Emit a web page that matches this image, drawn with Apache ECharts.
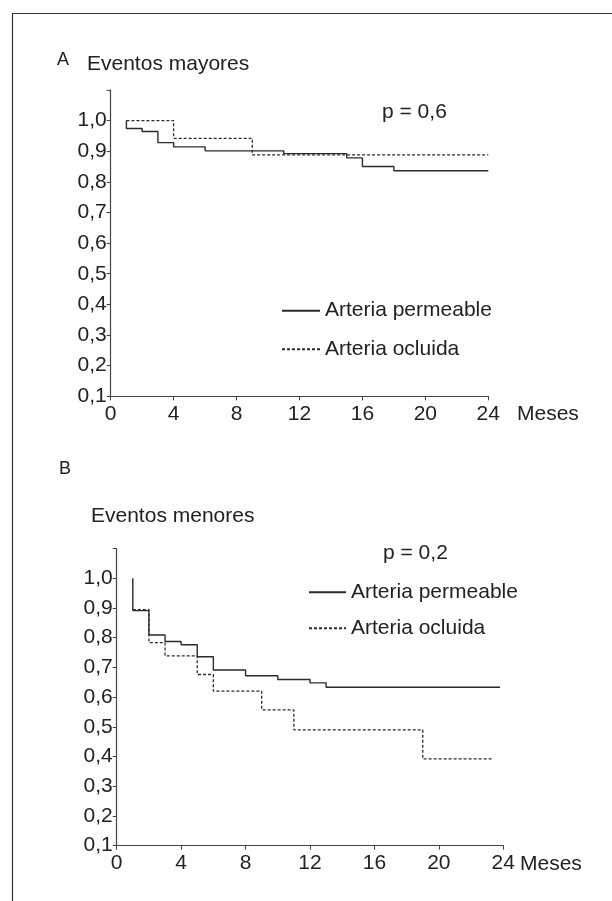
<!DOCTYPE html>
<html>
<head>
<meta charset="utf-8">
<script src="https://cdn.jsdelivr.net/npm/echarts@6/dist/echarts.min.js"></script>
<style>
html,body{margin:0;padding:0;background:#fff;}
#chart{width:612px;height:901px;}
</style>
</head>
<body>
<div id="chart"></div>
<script>
// ---- data (months, survival proportion) ----
const monthTicks = [0, 4, 8, 12, 16, 20, 24];
const yTicks = [0.1, 0.2, 0.3, 0.4, 0.5, 0.6, 0.7, 0.8, 0.9, 1.0];

// Panel A: Eventos mayores
const aPermeableT = [1, 1, 2, 3, 4, 6, 11, 15, 16, 18, 24];
const aPermeableS = [1.0, 0.974, 0.964, 0.928, 0.914, 0.901, 0.892, 0.878, 0.85, 0.836, 0.836];
const aOcluidaT = [1, 4, 9, 24];
const aOcluidaS = [1.0, 0.942, 0.888, 0.888];

// Panel B: Eventos menores
const bPermeableT = [1, 1, 2, 3, 4, 5, 6, 8, 10, 12, 13, 23.8];
const bPermeableS = [1.0, 0.891, 0.809, 0.787, 0.776, 0.736, 0.691, 0.672, 0.659, 0.648, 0.633, 0.633];
const bOcluidaT = [1, 2, 3, 5, 6, 9, 11, 19, 23.4];
const bOcluidaS = [0.894, 0.783, 0.739, 0.676, 0.620, 0.557, 0.49, 0.392, 0.392];

const seriesNames = ['Arteria permeable', 'Arteria ocluida'];
const panelTitles = ['Eventos mayores', 'Eventos menores'];
const panelLetters = ['A', 'B'];
const pValues = ['p = 0,6', 'p = 0,2'];
const xUnit = 'Meses';

// ---- build ----
const FONT = "'Liberation Sans', Arial, Helvetica, sans-serif";
const TXT = '#222';
const LINE = '#2b2b2b';
const FS = 21;
const zip = (t, s) => t.map((v, i) => [v, s[i]]);

function xAxisFor(idx) {
  return {
    gridIndex: idx, type: 'value', min: 0, max: 24, interval: 4,
    axisLine: {lineStyle: {color: '#444', width: 1.2}},
    axisTick: {show: true, length: 4, lineStyle: {color: '#444'}},
    splitLine: {show: false},
    axisLabel: {fontSize: FS, color: TXT, fontFamily: FONT, margin: 7,
      formatter: v => monthTicks.includes(v) ? String(v) : ''}
  };
}
function yAxisFor(idx) {
  return {
    gridIndex: idx, type: 'value', min: 0.1, max: 1.1, interval: 0.1,
    axisLine: {show: true, lineStyle: {color: '#444', width: 1.2}},
    axisTick: {show: true, length: 4, lineStyle: {color: '#444'}},
    splitLine: {show: false},
    axisLabel: {fontSize: FS, color: TXT, fontFamily: FONT, margin: 4,
      formatter: v => {
        const r = Math.round(v * 10) / 10;
        return yTicks.some(t => Math.abs(t - r) < 1e-6) ? r.toFixed(1).replace('.', ',') : '';
      }}
  };
}
function lineSeries(name, idx, data, dashed) {
  return {
    name, type: 'line', xAxisIndex: idx, yAxisIndex: idx, step: 'end',
    data, symbol: 'none', silent: true,
    lineStyle: {color: LINE, width: dashed ? 1.3 : 1.4, type: dashed ? [3, 2] : 'solid'},
    itemStyle: {color: LINE}
  };
}
function txt(text, x, y, size) {
  return {type: 'text', x, y, style: {text, fill: TXT, font: size + 'px ' + FONT, textVerticalAlign: 'middle', textAlign: 'left'}};
}
function legendFor(left, top, gap, w) {
  return {orient: 'vertical', left, top, padding: 0, itemGap: gap,
    itemWidth: w, itemHeight: 14, selectedMode: false,
    itemStyle: {opacity: 0, color: 'rgba(0,0,0,0)', borderWidth: 0},
    textStyle: {fontSize: FS, color: TXT, fontFamily: FONT, lineHeight: FS},
    data: seriesNames};
}

const option = {
  animation: false,
  backgroundColor: '#fff',
  grid: [
    {left: 110.7, top: 89.9, width: 377.6, height: 306.4},
    {left: 116.7, top: 548.5, width: 386.6, height: 297.2}
  ],
  xAxis: [xAxisFor(0), xAxisFor(1)],
  yAxis: [yAxisFor(0), yAxisFor(1)],
  legend: [
    legendFor(281, 300.2, 17.6, 38),
    legendFor(308, 581.8, 15, 37)
  ],
  series: [
    lineSeries(seriesNames[0], 0, zip(aPermeableT, aPermeableS), false),
    lineSeries(seriesNames[1], 0, zip(aOcluidaT, aOcluidaS), true),
    lineSeries(seriesNames[0], 1, zip(bPermeableT, bPermeableS), false),
    lineSeries(seriesNames[1], 1, zip(bOcluidaT, bOcluidaS), true)
  ],
  graphic: [
    {type: 'rect', shape: {x: 12.5, y: 13.5, width: 700, height: 1000},
     style: {fill: 'none', stroke: '#333', lineWidth: 1.2}, silent: true},
    txt(panelLetters[0], 57, 59.7, 18),
    txt(panelTitles[0], 87, 64.3, FS),
    txt(pValues[0], 382, 112, FS),
    txt(xUnit, 517, 414, FS),
    txt(panelLetters[1], 59, 468.7, 18),
    txt(panelTitles[1], 91, 516.6, FS),
    txt(pValues[1], 383, 553.4, FS),
    txt(xUnit, 520, 864, FS)
  ]
};

const chart = echarts.init(document.getElementById('chart'), null, {renderer: 'canvas'});
chart.setOption(option);
</script>
</body>
</html>
